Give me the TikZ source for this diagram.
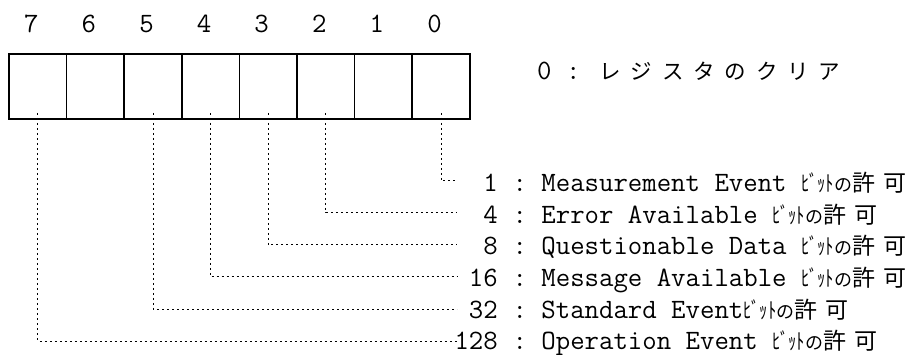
\documentclass[tikz,border=0pt]{standalone}
\usepackage{fontspec}
\newfontfamily\jpfont{Noto Sans CJK JP}
\newcommand\mtfont{\fontsize{28}{28}\selectfont\ttfamily\addfontfeature{FakeBold=0.6}}
\newcommand\kn[1]{\makebox[31.3pt][l]{#1}}
\newcommand\bitok{{\jpfont\fontsize{22}{22}\selectfont\scalebox{0.75}[1]{ﾋﾞｯﾄ}}{\jpfont\fontsize{18}{18}\selectfont の}{\jpfont\fontsize{23}{23}\selectfont 許\hspace{8pt}可}}
\tikzset{
  cell/.style={draw, line width=1.6pt, minimum width=57.6pt, minimum height=65pt, inner sep=0pt, outer sep=0pt},
  bitlabel/.style={font=\mtfont, anchor=base, inner sep=0pt},
  numlabel/.style={font=\mtfont, anchor=base east, inner sep=0pt},
  desclabel/.style={font=\mtfont, anchor=base west, inner sep=0pt},
  dotline/.style={line width=1pt, dash pattern=on 2pt off 3pt}
}
\begin{document}
\begin{tikzpicture}[x=1pt,y=-1pt]
\useasboundingbox (0,0) rectangle (918,355);
% register cells
\foreach \i in {0,...,7}{
  \node[cell] (c\i) at ({37.8+57.6*(7-\i)},86.5) {};
  \node[bitlabel] (b\i) at ({31.3+57.6*(7-\i)},33) {\i};
}
% clear
\node[desclabel] (clr) at (537,80) {0 : {\jpfont\fontsize{21.5}{21.5}\selectfont\kn{レ}\kn{ジ}\kn{ス}\kn{タ}\kn{の}\kn{ク}\kn{リ}ア}};
% labels
\node[numlabel] (n0) at (498,192) {1};
\node[desclabel] (t0) at (498,192) {\ :\ Measurement Event \bitok};
\node[numlabel] (n1) at (498,223.5) {4};
\node[desclabel] (t1) at (498,223.5) {\ :\ Error Available \bitok};
\node[numlabel] (n2) at (498,255) {8};
\node[desclabel] (t2) at (498,255) {\ :\ Questionable Data \bitok};
\node[numlabel] (n3) at (498,286.5) {16};
\node[desclabel] (t3) at (498,286.5) {\ :\ Message Available \bitok};
\node[numlabel] (n4) at (498,318) {32};
\node[desclabel] (t4) at (498,318) {\ :\ Standard Event\bitok};
\node[numlabel] (n5) at (498,349) {128};
\node[desclabel] (t5) at (498,349) {\ :\ Operation Event \bitok};
% connector end points
\coordinate (e0) at (457,181);
\coordinate (e1) at (457,213);
\coordinate (e2) at (457,245);
\coordinate (e3) at (457,277);
\coordinate (e4) at (457,309);
\coordinate (e5) at (457,341);
% connectors
\draw[dotline] ([yshift=6pt]c0.south) |- (e0);
\draw[dotline] ([yshift=6pt]c2.south) |- (e1);
\draw[dotline] ([yshift=6pt]c3.south) |- (e2);
\draw[dotline] ([yshift=6pt]c4.south) |- (e3);
\draw[dotline] ([yshift=6pt]c5.south) |- (e4);
\draw[dotline] ([yshift=6pt]c7.south) |- (e5);
\end{tikzpicture}
\end{document}
